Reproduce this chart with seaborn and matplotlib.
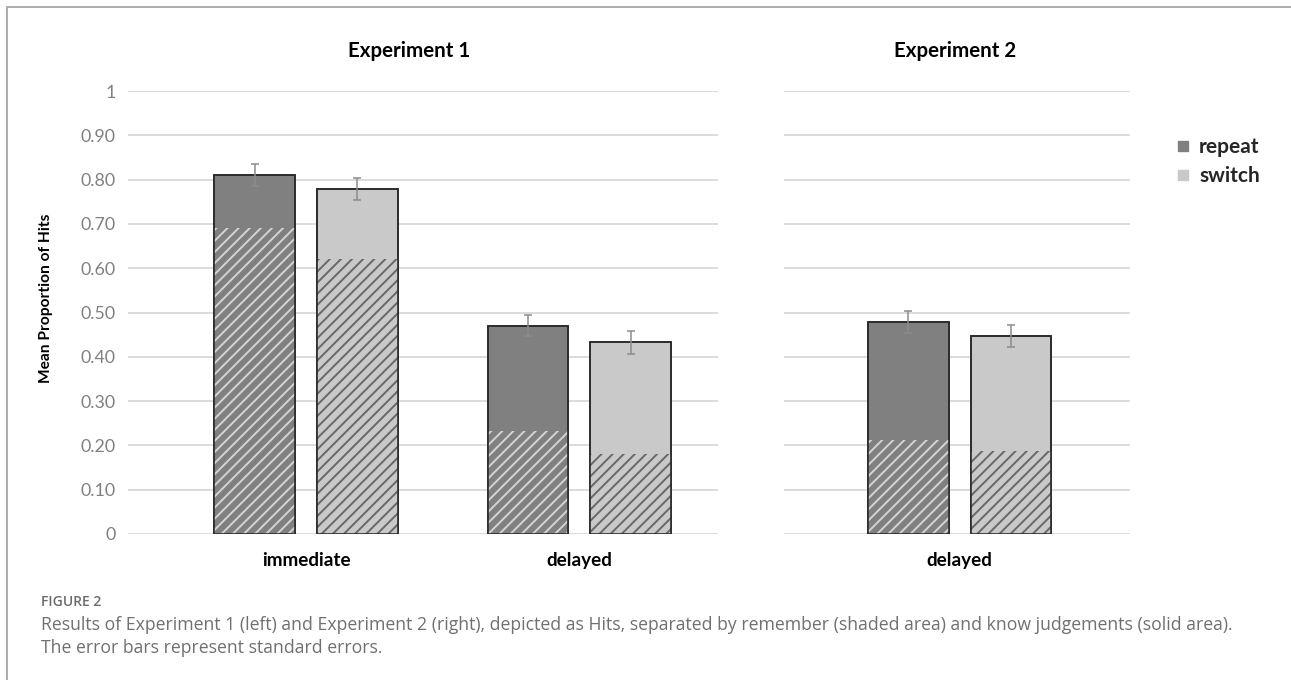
import matplotlib
matplotlib.use("Agg")
import matplotlib.pyplot as plt
import seaborn as sns
import pandas as pd
import numpy as np
from matplotlib.lines import Line2D
from matplotlib.patches import Rectangle

# ---------------- data ----------------
exp1_conditions = ["immediate", "delayed"]
exp1_repeat_total = [0.810, 0.470]
exp1_switch_total = [0.779, 0.433]
exp1_repeat_remember = [0.691, 0.232]
exp1_switch_remember = [0.621, 0.180]
exp1_repeat_se = [0.025, 0.024]
exp1_switch_se = [0.025, 0.026]

exp2_conditions = ["delayed"]
exp2_repeat_total = [0.478]
exp2_switch_total = [0.447]
exp2_repeat_remember = [0.212]
exp2_switch_remember = [0.187]
exp2_repeat_se = [0.025]
exp2_switch_se = [0.025]

types = ["repeat", "switch"]
y_ticks = [0, 0.1, 0.2, 0.3, 0.4, 0.5, 0.6, 0.7, 0.8, 0.9, 1.0]
y_tick_labels = ["0", "0.10", "0.20", "0.30", "0.40", "0.50", "0.60", "0.70", "0.80", "0.90", "1"]


def make_df(conds, rt, st, rr, sr, rse, sse):
    rows = []
    for i, c in enumerate(conds):
        rows.append(dict(condition=c, type="repeat", total=rt[i], remember=rr[i], se=rse[i]))
        rows.append(dict(condition=c, type="switch", total=st[i], remember=sr[i], se=sse[i]))
    return pd.DataFrame(rows)


df1 = make_df(exp1_conditions, exp1_repeat_total, exp1_switch_total,
              exp1_repeat_remember, exp1_switch_remember, exp1_repeat_se, exp1_switch_se)
df2 = make_df(exp2_conditions, exp2_repeat_total, exp2_switch_total,
              exp2_repeat_remember, exp2_switch_remember, exp2_repeat_se, exp2_switch_se)

# ---------------- style ----------------
sns.set_theme(style="white")
plt.rcParams["font.family"] = ["Lato", "DejaVu Sans"]
plt.rcParams["hatch.linewidth"] = 1.4

palette = {"repeat": "#808080", "switch": "#c9c9c9"}
hatch_colors = {"repeat": "#d4d4d4", "switch": "#686868"}
edge_dark = "#2b2b2b"

W, H = 1291, 680
fig = plt.figure(figsize=(W / 100, H / 100), dpi=100)

ax1 = fig.add_axes([128 / W, 1 - 534 / H, 590 / W, 443 / H])
ax2 = fig.add_axes([784 / W, 1 - 534 / H, 346 / W, 443 / H])


def draw_panel(ax, df, conds, xlim):
    bar_kw = dict(x="condition", hue="type", order=conds, hue_order=types,
                  width=0.752, gap=0.213, errorbar=None, legend=False, ax=ax)
    # total bars (solid "know" area on top)
    n0 = len(ax.patches)
    sns.barplot(data=df, y="total", palette=palette, edgecolor=edge_dark,
                linewidth=1.2, zorder=2, **bar_kw)
    total_patches = ax.patches[n0:]
    # remember portion (hatched)
    n1 = len(ax.patches)
    sns.barplot(data=df, y="remember", palette=palette, linewidth=0,
                zorder=3, **bar_kw)
    rem_patches = ax.patches[n1:]
    for p in rem_patches:
        fc = p.get_facecolor()
        t = "repeat" if fc[0] < 0.6 else "switch"
        p.set_hatch("///")
        p.set_edgecolor(hatch_colors[t])
        p.set_linewidth(0)
    # outlines on top
    n2 = len(ax.patches)
    sns.barplot(data=df, y="total", fill=False, linewidth=1.2, zorder=4, **bar_kw)
    for p in ax.patches[n2:]:
        p.set_edgecolor(edge_dark)
        p.set_facecolor("none")
    # error bars from the total patches
    for p in total_patches:
        h = p.get_height()
        row = df.iloc[(df["total"] - h).abs().argmin()]
        xc = p.get_x() + p.get_width() / 2
        ax.errorbar(xc, h, yerr=row["se"], fmt="none", ecolor="#8c8c8c",
                    elinewidth=1.1, capsize=2.8, capthick=1.1, zorder=5)

    ax.set_ylim(0, 1)
    ax.set_xlim(*xlim)
    ax.set_yticks(y_ticks)
    ax.yaxis.grid(True, color="#d9d9d9", linewidth=1.3, zorder=0)
    ax.set_axisbelow(True)
    for s in ax.spines.values():
        s.set_visible(False)
    ax.set_xlabel("")
    ax.set_ylabel("")
    ax.tick_params(axis="x", length=0, pad=13)
    ax.tick_params(axis="y", length=0)
    for lab in ax.get_xticklabels():
        lab.set_fontweight("bold")
        lab.set_fontsize(13.6)
        lab.set_color("black")


draw_panel(ax1, df1, exp1_conditions, (-0.651, 1.507))
draw_panel(ax2, df2, exp2_conditions, (-0.642, 0.623))

ax1.set_yticklabels(y_tick_labels, fontsize=12.8, color="#808080")
ax1.tick_params(axis="y", pad=9)
ax2.set_yticklabels([])

ax1.set_ylabel("Mean Proportion of Hits", fontsize=11.2, fontweight="bold",
               color="black")
ax1.yaxis.set_label_coords(-75 / 590, 0.533)

fig.text(409 / W, 1 - 51 / H, "Experiment 1", ha="center", va="center",
         fontsize=14.8, fontweight="bold", color="black")
fig.text(955 / W, 1 - 51 / H, "Experiment 2", ha="center", va="center",
         fontsize=14.8, fontweight="bold", color="black")

handles = [Line2D([0], [0], marker="s", linestyle="none", markersize=7,
                  markerfacecolor=palette[t], markeredgecolor=palette[t]) for t in types]
leg = fig.legend(handles, types, loc="upper left", bbox_to_anchor=(1173 / W, 1 - 137 / H),
                 frameon=False, handletextpad=0.25, labelspacing=0.45,
                 prop=dict(family=["Lato", "DejaVu Sans"], weight="bold", size=15),
                 handlelength=1.0, borderpad=0, borderaxespad=0)

# figure frame (left & top visible)
fig.add_artist(Rectangle((7 / W, -0.05), 1.2, 1 - 7 / H + 0.05, transform=fig.transFigure,
                         fill=False, edgecolor="#a6a6a6", linewidth=1.3))

cap_font = ["Open Sans", "DejaVu Sans"]
fig.text(41 / W, 1 - 602 / H, "FIGURE 2", ha="left", va="center", fontsize=10,
         color="#6b6b6b", family=cap_font, fontweight="semibold")
fig.text(41 / W, 1 - 625 / H,
         "Results of Experiment 1 (left) and Experiment 2 (right), depicted as Hits, separated by remember (shaded area) and know judgements (solid area).",
         ha="left", va="center", fontsize=12.7, color="#707070", family=cap_font)
fig.text(41 / W, 1 - 648 / H, "The error bars represent standard errors.",
         ha="left", va="center", fontsize=12.7, color="#707070", family=cap_font)

fig.savefig("out.png", dpi=100)
